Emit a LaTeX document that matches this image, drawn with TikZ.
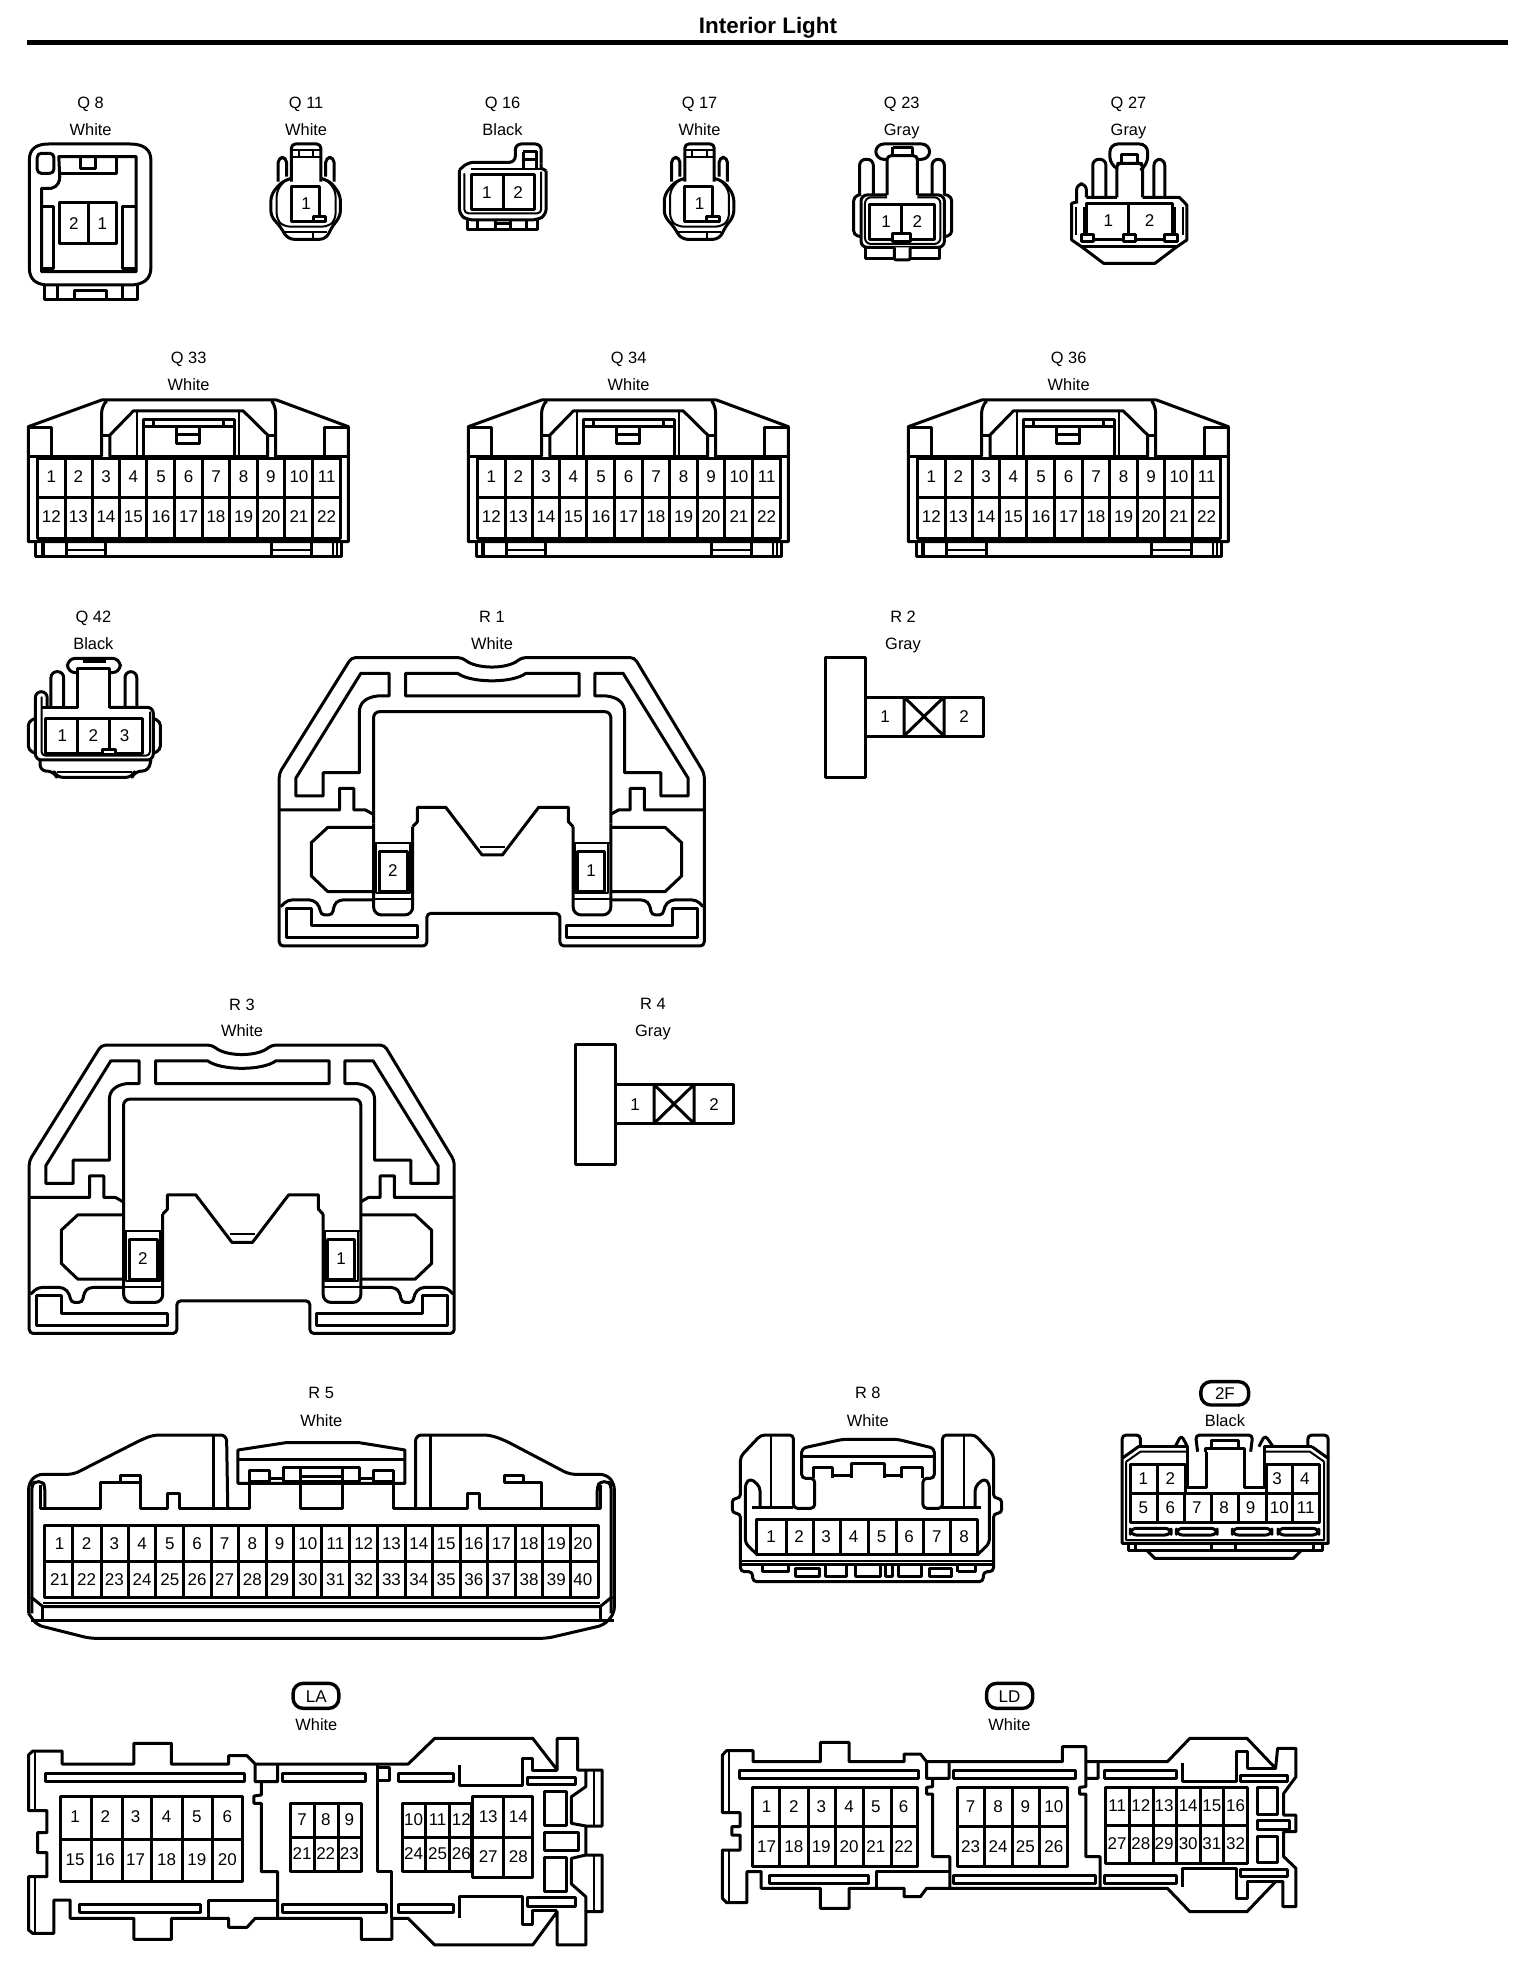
\documentclass[tikz,border=0pt]{standalone}
\usepackage{fontspec}
\setmainfont{Liberation Sans}
\tikzset{
  ol/.style={draw=black,line width=1.5pt,line join=round},
  tn/.style={draw=black,line width=1pt,line join=round},
  num/.style={inner sep=0pt,text height=6.1pt,text depth=0pt,font=\fontsize{8.5}{10}\selectfont},
  lab/.style={inner sep=0pt,text height=6pt,text depth=0pt,font=\fontsize{8.2}{10}\selectfont},
  zw/.style={xscale=.4898,yscale=.3333}
}
\newcommand\tgrid[6]{\draw[ol] (#1,#2) rectangle (#3,#4);\draw[ol] (#1,#5)--(#3,#5);\foreach \d in {#6}{\draw[ol] (\d,#2)--(\d,#4);}}
\newcommand\numrow[3]{\foreach \px/\tx in {#3}{\node[num] (#1-\tx) at (\px,#2) {\tx};}}
\newcommand\ConQell[3]{%
\begin{scope}[shift={(#1,0)},zw]
\node[lab] (#2-id) at (625,308) {#3};
\node[lab] (#2-col) at (625,390) {White};
\draw[ol,rounded corners=2pt] (595,545)--(595,432)--(655,432)--(655,545);
\draw[tn] (595,450)--(655,450) (595,470)--(655,470) (610,450)--(610,470) (640,450)--(640,470);
\draw[ol,rounded corners=2.5pt] (585,530)--(585,472)--(568,472)--(568,545);
\draw[ol,rounded corners=2.5pt] (665,530)--(665,472)--(682,472)--(682,545);
\draw[ol,rounded corners=3pt] (595,535)--(575,545)--(553,585)--(553,650)--(570,675)--(588,718)--(665,718)--(680,675)--(695,650)--(695,585)--(675,545)--(655,535);
\draw[tn,rounded corners=3pt] (580,545)--(565,570)--(565,660)--(580,680)--(670,680)--(685,660)--(685,570)--(670,545);
\draw[ol] (595,560) rectangle (652,665);
\draw[ol,fill=white] (640,650) rectangle (665,665);
\draw[tn] (578,695)--(668,695) (640,695)--(640,715);
\node[num] (#2-1) at (625,610) {1};
\end{scope}}
\newcommand\ConQtt[3]{%
\begin{scope}[shift={(#1,340)},xscale=.3333,yscale=.3333]
\node[lab] (#2-id) at (566,52) {#3};
\node[lab] (#2-col) at (566,135) {White};
\draw[ol] (85,260)--(305,180)--(830,180)--(1045,260)--(1045,605)--(85,605)--cycle;
\draw[ol] (85,262)--(155,262)--(155,348) (1045,262)--(975,262)--(975,348);
\draw[ol] (85,350)--(305,350) (825,350)--(1045,350);
\draw[ol,rounded corners=3pt] (320,183)--(305,200)--(305,350);
\draw[ol,rounded corners=3pt] (815,183)--(827,200)--(827,355);
\draw[ol] (305,288)--(330,288) (803,288)--(827,288);
\draw[ol] (330,350)--(330,285)--(400,213)--(730,213)--(803,285)--(803,350)--cycle;
\draw[tn] (412,215)--(412,348) (718,215)--(718,348);
\draw[ol] (432,350)--(432,238)--(705,238)--(705,350) (432,260)--(705,260);
\draw[ol] (462,238)--(462,260) (672,238)--(672,260);
\draw[ol] (530,260)--(530,310)--(600,310)--(600,260) (530,285)--(600,285);
\tgrid{112}{355}{1022}{595}{473}{197,278,358,441,525,607,690,772,855,938}
\numrow{#2}{410}{154/1,235/2,318/3,400/4,483/5,566/6,648/7,731/8,813/9,897/10,980/11}
\numrow{#2}{530}{154/12,235/13,318/14,400/15,483/16,566/17,648/18,731/19,813/20,897/21,980/22}
\draw[ol] (108,605)--(108,650)--(1025,650)--(1025,605);
\draw[tn] (125,605)--(125,650) (133,605)--(133,650) (1000,605)--(1000,650) (1010,605)--(1010,650);
\draw[ol] (200,610)--(200,650) (318,610)--(318,650) (815,610)--(815,650) (935,610)--(935,650);
\draw[tn] (200,630)--(318,630) (815,630)--(935,630);
\end{scope}}
\newcommand\ROneHalf{%
\draw[ol] (765,250)--(825,250)--(825,318)--(800,318)..controls (775,322) and (762,340)..(762,365)--(762,548)--(685,548)--(685,618)--(627,618)--(627,565)--cycle;
\draw[ol] (592,660)--(720,660)--(720,595)--(750,595)--(750,660)--(775,660)--(790,672);
\draw[ol,rounded corners=2pt] (595,950)--(610,930)--(665,930)--(678,950)--(680,975)--(705,975)--(708,945)--(718,930)--(792,930);
\draw[ol] (608,955)--(660,955)--(660,1008)--(885,1008)--(885,1043)--(608,1043)--cycle;
}
\newcommand\ConRone[5]{%
\begin{scope}[shift={(#1,#2+590)},xscale=.4717,yscale=.3333]
\node[lab] (#3-id) at (1043,80) {#4};
\node[lab] (#3-col) at (1043,160) {#5};
\draw[ol,rounded corners=2pt] (745,203)--(980,203)..controls (1010,238) and (1076,238)..(1105,203)--(1345,203)--(1493,550)--(1493,1068)--(1187,1068)--(1187,970)--(905,970)--(905,1068)--(592,1068)--(592,550)--cycle;
\ROneHalf
\begin{scope}[shift={(2086,0)},xscale=-1]\ROneHalf\end{scope}
\draw[ol] (792,712)--(695,712)--(660,758)--(660,858)--(695,905)--(792,905);
\draw[ol] (1295,712)--(1410,712)--(1445,758)--(1445,858)--(1410,905)--(1295,905);
\draw[ol] (860,250)--(970,250)..controls (1000,280) and (1086,280)..(1115,250)--(1228,250)--(1228,318)--(860,318)--cycle;
\draw[ol,rounded corners=3pt] (792,700)--(792,365)--(1295,365)--(1295,700);
\draw[ol,rounded corners=4pt] (792,700)--(792,975)--(875,975)--(875,710);
\draw[ol,rounded corners=4pt] (1215,710)--(1215,975)--(1295,975)--(1295,700);
\draw[ol] (875,710)--(885,695)--(885,652)--(945,652)--(1022,795)--(1065,795)--(1142,652)--(1205,652)--(1205,695)--(1215,710);
\draw[tn] (1017,770)--(1070,770);
\draw[tn] (792,760)--(875,760) (792,928)--(875,928) (1215,760)--(1295,760) (1215,928)--(1295,928);
\draw[tn] (797,760) rectangle (870,910) (1218,760) rectangle (1290,910);
\draw[ol] (805,785) rectangle (863,905) (1224,785) rectangle (1282,905);
\node[num] (#3-2) at (833,842) {2};
\node[num] (#3-1) at (1253,842) {1};
\end{scope}}
\newcommand\ConRtwo[4]{%
\begin{scope}[shift={(#1,#2)}]
\node[lab] (#3-id) at (903,616) {#4};
\node[lab] (#3-col) at (903,643) {Gray};
\draw[ol] (825,657) rectangle (865,777);
\draw[ol] (865,697) rectangle (983,736);
\draw[ol] (904,697)--(904,736) (944,697)--(944,736) (904,697)--(944,736) (904,736)--(944,697);
\node[num] (#3-1) at (885,716.5) {1};
\node[num] (#3-2) at (964,716.5) {2};
\end{scope}}
\begin{document}
\begin{tikzpicture}[x=.5pt,y=-.5pt]
\fill[white] (0,0) rectangle (1536,1964);
\useasboundingbox (0,0) rectangle (1536,1964);
\node[inner sep=0pt,font=\bfseries\fontsize{11.2}{13}\selectfont] (title) at (768,28) {Interior Light};
\coordinate (ruleL) at (27,42.5); \coordinate (ruleR) at (1508,42.5);
\draw[line width=2.5pt] (ruleL)--(ruleR);
% Q8
\begin{scope}[zw]
\node[lab] (q8-id) at (185,308) {Q 8};
\node[lab] (q8-col) at (185,390) {White};
\draw[ol] (60,480) ..controls (60,445) and (75,432) .. (100,432) -- (265,432) .. controls (295,432) and (308,450) .. (308,480) -- (308,805) .. controls (308,840) and (290,855) .. (265,855) -- (100,855) .. controls (75,855) and (60,840) .. (60,805) -- cycle;
\draw[ol] (90,855)--(90,900)--(280,900)--(280,855) (118,855)--(118,900) (250,855)--(250,900);
\draw[ol] (152,900)--(152,872)--(218,872)--(218,900);
\draw[ol,rounded corners=2pt] (76,460) rectangle (110,520);
\draw[ol] (120,470)--(278,470)--(278,815)--(85,815)--(85,565)--(105,565)..controls (118,560) and (122,545)..(122,530)--cycle;
\draw[ol] (120,520)--(238,520)--(238,470) (165,470)--(165,505)--(195,505)--(195,470);
\draw[ol] (122,608) rectangle (238,732) (180,608)--(180,732);
\draw[ol] (85,620)--(110,620)--(110,805)--(85,805) (278,620)--(250,620)--(250,805)--(278,805);
\node[num] (q8-2) at (151,670) {2};
\node[num] (q8-1) at (209,670) {1};
\end{scope}
\ConQell{0}{q11}{Q 11}
\ConQell{393.4}{q17}{Q 17}
% Q16
\begin{scope}[zw]
\node[lab] (q16-id) at (1026,308) {Q 16};
\node[lab] (q16-col) at (1026,390) {Black};
\draw[ol,rounded corners=3pt] (938,510)--(955,487)--(1052,487)--(1052,432)--(1105,432)--(1105,490);
\draw[ol] (1105,490)--(1105,505)--(1115,512);
\draw[ol,rounded corners=3pt] (1115,512)--(1115,645)--(1097,660)--(955,660)--(938,645)--(938,510);
\draw[tn,rounded corners=2pt] (948,520)--(948,640)--(1105,640)--(1105,515);
\draw[ol] (962,525) rectangle (1092,630) (1027,525)--(1027,630);
\draw[tn] (962,507)--(1105,507);
\draw[ol] (1068,455)--(1095,455)--(1095,507) (1068,455)--(1068,507) (1068,480)--(1095,480);
\draw[ol] (955,660)--(955,690)--(1097,690)--(1097,660) (975,660)--(975,690) (1012,660)--(1012,690) (1042,660)--(1042,690) (1075,660)--(1075,690) (1012,672)--(1042,672);
\node[num] (q16-1) at (994,578) {1};
\node[num] (q16-2) at (1058,578) {2};
\end{scope}
% Q23
\begin{scope}[shift={(768,60)},zw]
\node[lab] (q23-id) at (273,128) {Q 23};
\node[lab] (q23-col) at (273,210) {Gray};
\draw[ol,rounded corners=4pt] (243,298)--(220,298)--(220,252)--(330,252)--(330,298)--(305,298);
\draw[ol] (255,262)--(295,262)--(295,285) (255,262)--(255,285);
\draw[ol,rounded corners=2pt] (243,405)--(243,287)--(305,287)--(305,405);
\draw[ol,rounded corners=3pt] (215,405)--(215,298)--(187,298)--(187,405);
\draw[ol,rounded corners=3pt] (335,405)--(335,298)--(360,298)--(360,405);
\draw[ol,rounded corners=3pt] (243,405)--(190,405)--(190,562)--(360,562)--(360,405)--(305,405);
\draw[tn,rounded corners=3pt] (243,412)--(198,412)--(198,552)--(352,552)--(352,412)--(305,412);
\draw[ol,rounded corners=2pt] (190,403)--(175,410)--(175,525)--(190,530) (360,403)--(375,410)--(375,525)--(360,530);
\draw[ol] (208,435) rectangle (340,540) (273,435)--(273,520);
\draw[ol,fill=white] (255,520) rectangle (290,545);
\draw[ol] (200,562)--(200,595)--(350,595)--(350,562);
\draw[ol,rounded corners=1pt,fill=white] (258,562)--(258,600)--(290,600)--(290,562);
\node[num] (q23-1) at (241,485) {1};
\node[num] (q23-2) at (305,485) {2};
\end{scope}
% Q27
\begin{scope}[shift={(768,60)},zw]
\node[lab] (q27-id) at (736,128) {Q 27};
\node[lab] (q27-col) at (736,210) {Gray};
\draw[ol,rounded corners=4pt] (712,325)--(698,315)--(698,252)--(775,252)--(775,315)--(765,325);
\draw[ol] (722,310)--(722,285)--(755,285)--(755,310);
\draw[ol,rounded corners=2pt] (712,412)--(712,310)--(722,310)--(755,310)--(765,310)--(765,412);
\draw[ol,rounded corners=3pt] (690,412)--(690,298)--(663,298)--(663,412);
\draw[ol,rounded corners=3pt] (788,412)--(788,298)--(810,298)--(810,412);
\draw[ol,rounded corners=3pt] (650,412)--(650,372)--(630,372)--(630,430);
\draw[ol] (650,412)--(712,412) (765,412)--(840,412)--(855,435)--(855,540)--(835,560)--(790,610)--(685,610)--(640,560)--(620,540)--(620,430)--(632,425);
\draw[ol] (640,560)--(835,560);
\draw[ol] (650,430) rectangle (825,538) (735,430)--(735,538);
\draw[tn] (628,440)--(628,525) (645,440)--(645,525) (830,440)--(830,525) (848,440)--(848,525);
\draw[ol,fill=white] (640,525) rectangle (665,545) (725,525) rectangle (750,545) (810,525) rectangle (835,545);
\node[num] (q27-1) at (695,482) {1};
\node[num] (q27-2) at (779,482) {2};
\end{scope}
\ConQtt{0}{q33}{Q 33}
\ConQtt{440}{q34}{Q 34}
\ConQtt{880}{q36}{Q 36}
% Q42
\begin{scope}[shift={(0,590)},xscale=.4717,yscale=.3333]
\node[lab] (q42-id) at (198,80) {Q 42};
\node[lab] (q42-col) at (198,160) {Black};
\draw[ol,rounded corners=4pt] (165,248)--(143,248)--(143,205)--(255,205)--(255,248)--(232,248);
\draw[ol] (175,215)--(225,215);
\draw[ol] (165,355)--(165,237)--(232,237)--(232,355);
\draw[ol,rounded corners=3pt] (135,350)--(135,245)--(108,245)--(108,350);
\draw[ol,rounded corners=3pt] (265,350)--(265,245)--(290,245)--(290,350);
\draw[ol,rounded corners=3pt] (100,355)--(100,305)--(75,305)--(75,510)--(325,510)--(325,352)--(232,352);
\draw[ol] (90,352)--(165,352);
\draw[tn,rounded corners=2pt] (88,320)--(88,497)--(318,497)--(318,365);
\draw[ol,rounded corners=2pt] (75,385)--(60,395)--(60,480)--(75,490) (325,385)--(340,395)--(340,480)--(325,490);
\draw[ol] (97,385) rectangle (302,490) (165,385)--(165,490) (232,385)--(232,478);
\draw[ol,fill=white] (217,478) rectangle (245,495);
\draw[ol,rounded corners=3pt] (85,510)--(85,542)--(115,545)--(120,562)--(280,562)--(285,545)--(315,542)--(320,510);
\draw[tn] (120,545)--(280,545);
\numrow{q42}{435}{132/1,198/2,264/3}
\end{scope}
\ConRone{0}{0}{r1}{R 1}{White}
\ConRone{-250}{387.5}{r3}{R 3}{White}
\ConRtwo{0}{0}{r2}{R 2}
\ConRtwo{-250}{387.5}{r4}{R 4}
% R5
\begin{scope}[shift={(0,1380)},xscale=.4082,yscale=.3333]
\node[lab] (r5-id) at (787,38) {R 5};
\node[lab] (r5-col) at (787,120) {White};
\draw[ol,rounded corners=3pt] (70,700)--(70,310)--(90,283)--(180,283)--(345,180)--(375,165)--(555,165)--(558,385);
\draw[ol,rounded corners=3pt] (1018,385)--(1018,165)--(1200,165)--(1235,180)--(1395,283)--(1485,283)--(1505,310)--(1505,700)--(1480,735)--(1340,775)--(220,775)--(90,735)--(70,700);
\draw[ol] (583,310)--(583,210)--(700,188)--(880,188)--(992,210)--(992,310)--cycle;
\draw[ol] (583,238)--(992,238);
\draw[ol] (100,315)--(100,385)--(247,385)--(247,308)--(343,308)--(343,385)--(410,385)--(410,340)--(440,340)--(440,385)--(612,385)--(612,310);
\draw[ol] (295,308)--(295,285)--(343,285)--(343,308);
\draw[ol] (965,310)--(965,385)--(1145,385)--(1145,340)--(1175,340)--(1175,385)--(1327,385)--(1327,308)--(1235,308)--(1235,285)--(1283,285)--(1283,308);
\draw[ol] (1327,385)--(1470,385)--(1470,315);
\draw[ol] (522,165)--(522,385) (1055,165)--(1055,385);
\draw[ol,rounded corners=2pt] (78,700)--(78,315)--(85,305)--(105,305)--(110,320)--(110,385);
\draw[ol,rounded corners=2pt] (1497,700)--(1497,315)--(1490,305)--(1470,305)--(1463,320)--(1463,385);
\draw[ol] (612,270) rectangle (660,305) (915,270) rectangle (965,305);
\draw[ol] (695,305)--(695,262)--(880,262)--(880,305)--cycle (735,262)--(735,385)--(840,385)--(840,262) (735,290)--(840,290) (660,295)--(695,295) (880,295)--(915,295);
\tgrid{110}{437}{1465}{652}{545}{178,248,315,382,450,517,585,652,720,788,857,925,993,1060,1127,1195,1262,1330,1397}
\numrow{r5}{490}{146/1,212/2,280/3,348/4,416/5,483/6,550/7,618/8,685/9,754/10,822/11,891/12,959/13,1026/14,1093/15,1161/16,1228/17,1296/18,1363/19,1428/20}
\numrow{r5}{597}{146/21,212/22,280/23,348/24,416/25,483/26,550/27,618/28,685/29,754/30,822/31,891/32,959/33,1026/34,1093/35,1161/36,1228/37,1296/38,1363/39,1428/40}
\draw[ol] (75,650)--(105,680)--(1470,680)--(1500,650);
\draw[tn] (105,668)--(1470,668);
\draw[ol] (75,722)--(1503,722) (105,680)--(105,722) (1470,680)--(1470,722);
\end{scope}
% R8
\begin{scope}[shift={(720,1380)},xscale=.4082,yscale=.3333]
\node[lab] (r8-id) at (362,38) {R 8};
\node[lab] (r8-col) at (362,120) {White};
\draw[ol,rounded corners=2pt] (50,355)--(50,230)--(100,165)--(180,165)--(180,385)--(232,385)--(232,295)--(200,295)--(200,205)--(300,178)--(435,178)--(525,205)--(525,295)--(497,295)--(497,385)--(545,385)--(545,165)--(625,165)--(670,225)--(670,355)--(690,355)--(690,400)--(670,400)--(670,575)--(645,575)--(645,605)--(80,605)--(80,575)--(50,575)--(50,400)--(30,400)--(30,355)--cycle;
\draw[ol] (200,228)--(525,228);
\draw[ol] (228,295)--(228,262)--(275,262)--(275,295) (445,295)--(445,262)--(495,262)--(495,295) (322,295)--(322,250)--(403,250)--(403,295) (275,287)--(322,287) (403,287)--(445,287);
\draw[tn] (125,165)--(125,380) (597,165)--(597,380);
\draw[ol,rounded corners=2pt] (98,385)--(98,320)--(75,295)--(62,310)--(62,490)--(92,525);
\draw[ol,rounded corners=2pt] (625,385)--(625,320)--(647,295)--(660,310)--(660,490)--(630,525);
\draw[ol] (78,382)--(180,382) (545,382)--(640,382);
\draw[ol] (90,418) rectangle (632,522);
\foreach \d in {162,228,295,363,432,498,565}{\draw[ol] (\d,418)--(\d,522);}
\numrow{r8}{470}{125/1,194/2,260/3,327/4,396/5,463/6,531/7,598/8}
\draw[ol] (50,553)--(670,553);
\draw[tn] (50,543)--(670,543);
\draw[ol] (103,553)--(103,575)--(168,575)--(168,553) (582,575)--(625,575)--(625,553) (582,553)--(582,575);
\draw[ol] (185,565) rectangle (243,590) (512,565) rectangle (567,590);
\draw[ol] (258,553)--(258,590)--(310,590)--(310,553) (333,553)--(333,590)--(393,590)--(393,553) (405,553)--(405,590)--(422,590)--(422,553) (438,553)--(438,590)--(493,590)--(493,553);
\end{scope}
% 2F
\begin{scope}[shift={(720,1380)},xscale=.4082,yscale=.3333]
\node[num] (f2-id) at (1237,40) {2F};
\draw[ol,rounded corners=5pt,line width=1.7pt] (1178,5) rectangle (1295,75);
\node[lab] (f2-col) at (1237,120) {Black};
\draw[ol,rounded corners=2pt] (985,235)--(985,165)--(1030,165)--(1030,200);
\draw[ol,rounded corners=2pt] (1490,235)--(1490,165)--(1440,165)--(1440,200);
\draw[ol,rounded corners=2pt] (1115,200)--(1130,165)--(1145,200) (1320,200)--(1335,165)--(1355,200);
\draw[ol,rounded corners=2pt] (1170,215)--(1165,165)--(1305,165)--(1300,215);
\draw[ol] (1190,215)--(1190,205)--(1285,205)--(1285,215) (1205,205)--(1205,180)--(1270,180)--(1270,205);
\draw[ol] (1025,200)--(1145,200)--(1145,322)--(1192,322)--(1192,215) (1285,215)--(1285,322)--(1335,322)--(1335,200)--(1450,200);
\draw[ol] (985,235)--(985,490)--(1490,490)--(1490,235)--(1450,200) (985,235)--(1025,200);
\draw[tn] (995,245)--(1030,215)--(1145,215) (1335,215)--(1445,215)--(1480,245) (995,245)--(995,480)--(1480,480)--(1480,245);
\draw[ol] (1005,335)--(1005,252)--(1140,252)--(1140,335) (1072,252)--(1072,428) (1338,335)--(1338,252)--(1468,252)--(1468,335) (1402,252)--(1402,428);
\draw[ol] (1005,335)--(1005,428)--(1468,428)--(1468,335) (1005,340)--(1468,340);
\foreach \d in {1138,1205,1270,1338}{\draw[ol] (\d,340)--(\d,428);}
\numrow{f2}{295}{1037/1,1103/2,1365/3,1433/4}
\numrow{f2}{382}{1037/5,1103/6,1168/7,1235/8,1300/9,1370/10,1435/11}
\draw[ol,rounded corners=3pt] (1005,445) rectangle (1105,465) (1118,445) rectangle (1218,465) (1255,445) rectangle (1352,465) (1367,445) rectangle (1467,465);
\draw[ol] (1000,490)--(1000,510)--(1475,510)--(1475,490) (1018,490)--(1018,510) (1205,490)--(1205,510) (1262,490)--(1262,510) (1455,490)--(1455,510);
\draw[ol] (1045,510)--(1065,535)--(1405,535)--(1425,510);
\end{scope}
% LA
\begin{scope}[shift={(0,1680)},xscale=.4082,yscale=.3333]
\node[num] (la-id) at (775,48) {LA};
\draw[ol,rounded corners=5pt,line width=1.7pt] (718,10) rectangle (830,85);
\node[lab] (la-col) at (775,133) {White};
\draw[ol] (70,225)--(80,213)--(152,213)--(152,252)--(328,252)--(328,190)--(420,190)--(420,252)--(560,252)--(560,227)--(605,227)--(625,252)--(1000,252)--(1065,175)--(1305,175)--(1365,270)--(1365,175)--(1415,175)--(1415,270)--(1475,270)--(1475,438)--(1435,438)--(1435,525)--(1475,525)--(1475,695)--(1435,695)--(1435,795)--(1365,795)--(1365,695)--(1305,795)--(1065,795)--(1000,715)--(960,715)--(960,778)--(885,778)--(885,715)--(625,715)--(605,742)--(560,742)--(560,715)--(420,715)--(420,778)--(328,778)--(328,715)--(172,715)--(172,660)--(132,660)--(132,760)--(80,760)--(70,750)--(70,590)--(115,590)--(115,518)--(92,518)--(92,458)--(115,458)--(115,392)--(70,392)--cycle;
\draw[tn] (85,213)--(85,392) (85,590)--(85,760);
\draw[ol] (112,280) rectangle (600,305) (692,280) rectangle (895,305) (975,280) rectangle (1112,305) (195,672) rectangle (492,697) (692,672) rectangle (948,697) (975,672) rectangle (1112,697);
\draw[ol] (625,252)--(625,305)--(680,305)--(680,252) (640,305)--(640,345)--(622,348)--(622,370)--(640,370)--(640,575)--(680,575)--(680,715);
\draw[ol] (925,252)--(925,575)--(960,575)--(960,715) (925,262) rectangle (955,300) (510,715)--(510,660)--(680,660);
\draw[ol] (1125,255)--(1125,315)--(1280,315)--(1280,235)--(1305,235)--(1305,270)--(1365,270) (1125,715)--(1125,650)--(1280,650)--(1280,735)--(1305,735)--(1305,690)--(1365,690);
\draw[ol] (1292,292) rectangle (1410,312) (1292,652) rectangle (1410,678);
\draw[ol] (1335,335) rectangle (1388,435) (1335,458) rectangle (1418,512) (1335,532) rectangle (1388,635);
\draw[ol] (1435,270)--(1435,320)--(1400,350)--(1400,430)--(1435,438) (1435,525)--(1400,535)--(1400,612)--(1435,650)--(1435,695);
\draw[tn] (1455,270)--(1455,438) (1455,525)--(1455,695);
\tgrid{148}{350}{595}{605}{477}{225,300,372,448,520}
\numrow{la}{410}{184/1,258/2,332/3,408/4,482/5,557/6}
\numrow{la}{537}{184/15,258/16,332/17,408/18,482/19,557/20}
\tgrid{712}{370}{885}{575}{473}{770,830}
\numrow{la}{418}{740/7,798/8,856/9}
\numrow{la}{520}{740/21,798/22,856/23}
\tgrid{985}{370}{1155}{575}{473}{1042,1100}
\numrow{la}{418}{1013/10,1072/11,1130/12}
\numrow{la}{520}{1013/24,1072/25,1130/26}
\tgrid{1158}{350}{1305}{592}{473}{1233}
\numrow{la}{408}{1196/13,1270/14}
\numrow{la}{530}{1196/27,1270/28}
\end{scope}
% LD
\begin{scope}[shift={(700,1680)},xscale=.4082,yscale=.3333]
\node[num] (ld-id) at (758,48) {LD};
\draw[ol,rounded corners=5pt,line width=1.7pt] (702,10) rectangle (815,85);
\node[lab] (ld-col) at (758,133) {White};
\draw[ol] (55,225)--(65,212)--(130,212)--(130,245)--(295,245)--(295,187)--(365,187)--(365,245)--(500,245)--(500,222)--(540,222)--(555,245)--(888,245)--(888,200)--(945,200)--(945,245)--(1145,245)--(1200,175)--(1340,175)--(1410,265)--(1415,205)--(1460,205)--(1460,290)--(1430,340)--(1430,405)--(1460,405)--(1460,455)--(1430,455)--(1430,530)--(1460,565)--(1460,680)--(1428,680)--(1428,605)--(1410,605)--(1340,695)--(1200,695)--(1145,625)--(555,625)--(540,650)--(500,650)--(500,625)--(365,625)--(365,685)--(295,685)--(295,625)--(150,625)--(150,575)--(115,575)--(115,668)--(65,668)--(55,655)--(55,510)--(98,510)--(98,465)--(78,465)--(78,440)--(98,440)--(98,398)--(55,398)--cycle;
\draw[tn] (72,212)--(72,398) (72,510)--(72,668);
\draw[ol] (97,270) rectangle (535,295) (620,270) rectangle (920,295) (992,270) rectangle (1167,295) (170,587) rectangle (412,610) (620,587) rectangle (968,610) (992,587) rectangle (1167,610);
\draw[ol] (555,245)--(555,295)--(610,295)--(610,245) (570,295)--(570,320)--(555,322)--(555,342)--(570,342)--(570,530)--(612,530)--(612,625);
\draw[ol] (945,245)--(945,320)--(930,322)--(930,342)--(945,342)--(945,530)--(980,530)--(980,625) (945,295)--(975,295)--(975,245);
\draw[ol] (432,625)--(432,575)--(612,575);
\draw[ol] (1182,250)--(1182,305)--(1315,305)--(1315,215)--(1340,215)--(1340,265)--(1410,265) (1182,620)--(1182,565)--(1315,565)--(1315,655)--(1340,655)--(1340,605)--(1410,605);
\draw[ol] (1325,285) rectangle (1438,305) (1325,568) rectangle (1438,588);
\draw[ol] (1365,322) rectangle (1415,402) (1365,422) rectangle (1445,448) (1365,468) rectangle (1415,548);
\tgrid{128}{322}{533}{558}{440}{195,265,332,400,468}
\numrow{ld}{380}{163/1,230/2,297/3,365/4,431/5,499/6}
\numrow{ld}{498}{163/17,230/18,297/19,365/20,431/21,499/22}
\tgrid{632}{322}{900}{558}{440}{698,765,832}
\numrow{ld}{380}{663/7,730/8,797/9,867/10}
\numrow{ld}{498}{663/23,730/24,797/25,867/26}
\tgrid{993}{322}{1340}{550}{437}{1052,1110,1167,1225,1283}
\numrow{ld}{375}{1022/11,1080/12,1137/13,1196/14,1254/15,1312/16}
\numrow{ld}{490}{1022/27,1080/28,1137/29,1196/30,1254/31,1312/32}
\end{scope}
\end{tikzpicture}
\end{document}
